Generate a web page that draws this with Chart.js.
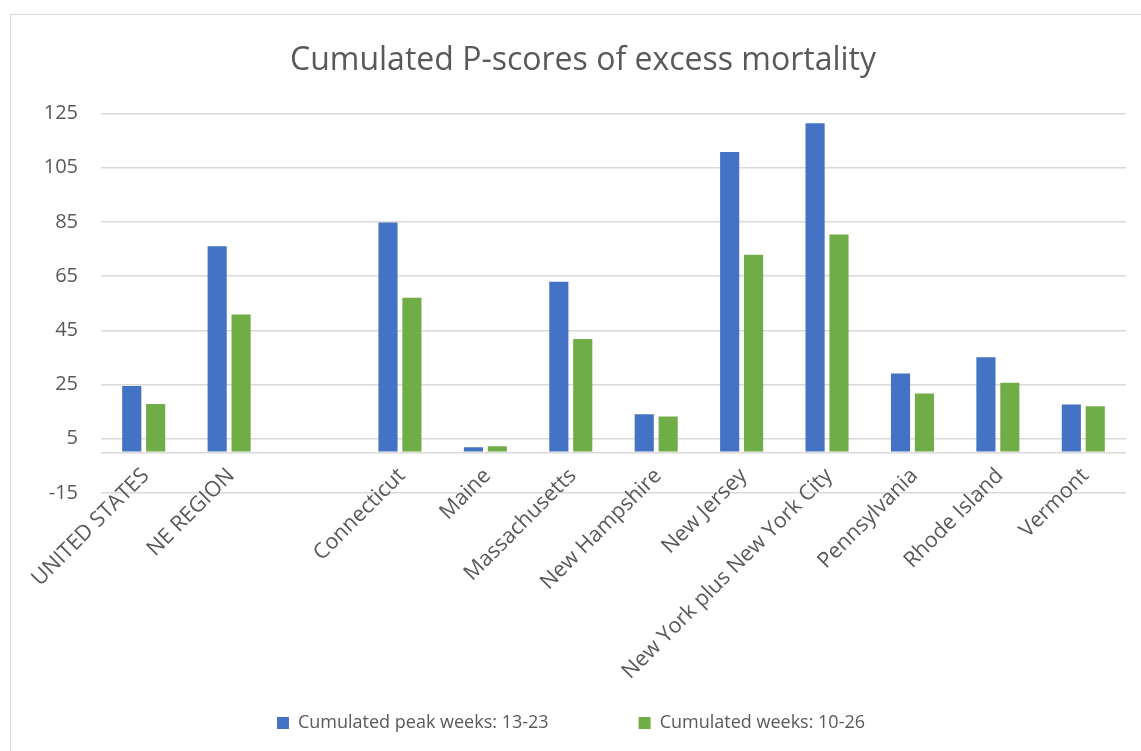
<!DOCTYPE html>
<html>
<head>
<meta charset="utf-8">
<title>Cumulated P-scores of excess mortality</title>
<script src="https://cdn.jsdelivr.net/npm/chart.js@4/dist/chart.umd.min.js"></script>
<style>
    html, body { margin: 0; padding: 0; background: #fff; overflow: hidden; }
    #wrap { position: relative; width: 1141px; height: 751px; }
    #frame {
        position: absolute; left: 10px; top: 14px; width: 1160px; height: 770px;
        border: 1px solid #d9d9d9; box-sizing: border-box;
    }
    #chart { position: absolute; left: 0; top: 0; }
</style>
</head>
<body>
<div id="wrap">
    <div id="frame"></div>
    <canvas id="chart" width="1141" height="751"></canvas>
</div>
<script>
/* Categories (third slot is an empty gap in the original) */
const categories = [
    'UNITED STATES', 'NE REGION', '', 'Connecticut', 'Maine', 'Massachusetts',
    'New Hampshire', 'New Jersey', 'New York plus New York City',
    'Pennsylvania', 'Rhode Island', 'Vermont'
];

/* Series values */
const peakWeeks = [24.5, 76.0, null, 84.8, 1.9, 62.9, 14.0, 110.8, 121.4, 29.1, 35.1, 17.6];
const allWeeks  = [17.8, 50.8, null, 57.0, 2.2, 41.8, 13.2, 72.9, 80.3, 21.7, 25.7, 17.0];

const seriesNames = ['Cumulated peak weeks: 13-23', 'Cumulated weeks: 10-26'];

/* Y axis ticks */
const yTicks = [-15, 5, 25, 45, 65, 85, 105, 125];

const FONT = "'Open Sans', sans-serif";
const TEXT = '#595959';
const GRID = '#d9d9d9';

/* Category labels hang from the zero line (like Excel), so draw them here
   instead of letting the x scale clip them to its own box */
const zeroAxisLabels = {
    id: 'zeroAxisLabels',
    afterLayout(chart) {
        // nudge the legend a little left, it is not quite centred in the original
        chart.legend.left -= 12;
        chart.legend.right -= 12;
    },
    afterDraw(chart) {
        const { ctx, scales: { x, y } } = chart;
        const top = y.getPixelForValue(0);
        ctx.save();
        ctx.fillStyle = TEXT;
        ctx.font = `21.5px ${FONT}`;
        ctx.textAlign = 'right';
        ctx.textBaseline = 'middle';
        categories.forEach((label, i) => {
            if (!label) return;
            ctx.save();
            ctx.translate(x.getPixelForValue(i) + 2, top + 20);
            ctx.rotate(-Math.PI / 4);
            ctx.fillText(label, 0, 0);
            ctx.restore();
        });
        ctx.restore();
    }
};

function buildChart() {
    const ctx = document.getElementById('chart').getContext('2d');
    return new Chart(ctx, {
        type: 'bar',
        data: {
            labels: categories,
            datasets: [
                { label: seriesNames[0], data: peakWeeks, backgroundColor: '#4472c4' },
                { label: seriesNames[1], data: allWeeks, backgroundColor: '#70ad47' }
            ]
        },
        plugins: [zeroAxisLabels],
        options: {
            responsive: false,
            animation: false,
            categoryPercentage: 0.56,
            barPercentage: 0.8,
            layout: { padding: { left: 40, right: 15, top: 0, bottom: 9 } },
            plugins: {
                title: {
                    display: true,
                    text: 'Cumulated P-scores of excess mortality',
                    color: TEXT,
                    font: { family: FONT, size: 32, weight: 'normal' },
                    padding: { top: 42, bottom: 33 }
                },
                legend: {
                    position: 'bottom',
                    labels: {
                        color: TEXT,
                        font: { family: FONT, size: 18 },
                        boxWidth: 12,
                        boxHeight: 12,
                        padding: 90
                    }
                },
                tooltip: { enabled: false }
            },
            scales: {
                x: {
                    grid: { display: false, drawTicks: false },
                    border: { display: false },
                    ticks: { display: false },
                    afterFit: scale => { scale.height = 131; }
                },
                y: {
                    min: yTicks[0],
                    max: yTicks[yTicks.length - 1],
                    grid: { color: GRID, lineWidth: 1.5, drawTicks: false },
                    border: { display: false },
                    ticks: {
                        color: TEXT,
                        font: { family: FONT, size: 20 },
                        stepSize: 20,
                        padding: 23,
                        callback: v => (v === 0 ? '' : v)
                    },
                    // the category axis sits at zero, add it as a gridline
                    afterBuildTicks: scale => {
                        scale.ticks = yTicks.concat([0]).sort((a, b) => a - b).map(v => ({ value: v }));
                    },
                    afterFit: scale => { scale.width = 61; }
                }
            }
        }
    });
}

window.addEventListener('load', buildChart);
</script>
</body>
</html>
